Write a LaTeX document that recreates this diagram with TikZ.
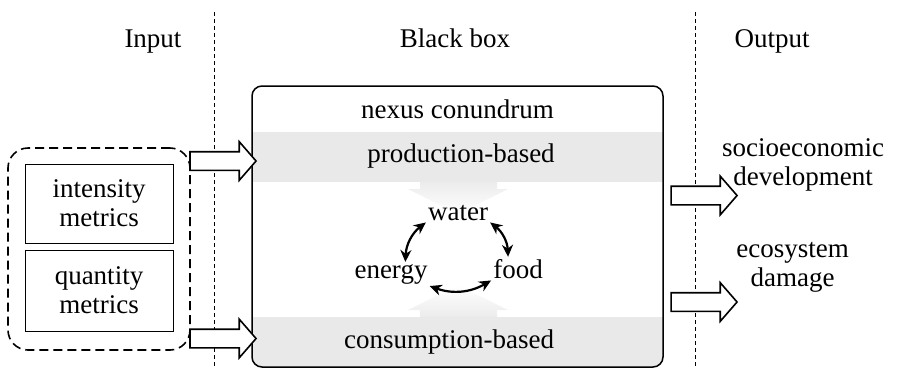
\documentclass[tikz,border=0pt]{standalone}
\usepackage{fontspec}
\setmainfont{Liberation Serif}
\usetikzlibrary{arrows.meta,shapes.arrows,calc}

\tikzset{
  fatarrow/.style={single arrow, draw, line width=1.6pt, fill=white, inner xsep=0pt,
    inner ysep=8.5pt, minimum height=66pt, single arrow head extend=10pt,
    single arrow tip angle=98, anchor=center},
  metricbox/.style={draw, line width=0.8pt, minimum width=148pt, align=center},
  band/.style={fill=gray!17},
  link/.style={{Stealth[length=12pt,width=11pt]}-{Stealth[length=12pt,width=11pt]}, line width=2.2pt},
  sep/.style={dashed, line width=0.9pt, dash pattern=on 4pt off 3pt}
}

\begin{document}
\begin{tikzpicture}[x=1pt,y=-1pt,font=\fontsize{27}{29}\selectfont]
\useasboundingbox (0,0) rectangle (915,368);

% columns
\draw[sep] (214,12) -- (214,368);
\draw[sep] (695,12) -- (695,368);
\node[anchor=base] (input) at (153,47) {Input};
\node[anchor=base] (blackbox) at (455,47) {Black box};
\node[anchor=base] (output) at (772,47) {Output};

% black box
\begin{scope}
  \clip[rounded corners=10pt] (252,86) rectangle (663,367);
  \fill[band] (252,132) rectangle (663,182);
  \fill[band] (252,317) rectangle (663,367);
  \shade[top color=gray!15, bottom color=white]
    (420,182) -- (497,182) -- (497,189) -- (508,189) -- (458,214) -- (408,189) -- (420,189) -- cycle;
  \shade[bottom color=gray!15, top color=white]
    (420,317) -- (497,317) -- (497,310) -- (508,310) -- (458,285) -- (408,310) -- (420,310) -- cycle;
\end{scope}
\node[draw, line width=1.5pt, rounded corners=10pt, minimum width=411pt, minimum height=281pt,
  inner sep=0pt] (box) at (457.5,226.5) {};

\node[anchor=base] (conundrum) at (457.5,118) {nexus conundrum};
\node[anchor=base] (production) at (461,162) {production-based};
\node[anchor=base] (consumption) at (449,348) {consumption-based};

% nexus
\begin{scope}[inner sep=2pt]
  \node[anchor=base] (water) at (458,220) {water};
  \node[anchor=base] (energy) at (391,278) {energy};
  \node[anchor=base] (food) at (518,278) {food};
\end{scope}
\draw[link] (energy.40) to[bend left=25] (water.south west);
\draw[link] (water.south east) to[bend left=25] (food.130);
\draw[link] (energy.south east) to[bend right=25] (food.south west);

% input
\node[draw, dashed, line width=1.6pt, dash pattern=on 9pt off 5pt, rounded corners=20pt,
  minimum width=182pt, minimum height=202pt] (metrics) at (99,249) {};
\node[metricbox, minimum height=79pt] (intensity) at (99,203.5) {intensity\\metrics};
\node[metricbox, minimum height=81pt] (quantity) at (99,290.5) {quantity\\metrics};

\node[fatarrow] (in1) at (219,161) {};
\node[fatarrow] (in2) at (219,338.5) {};

% output
\node[fatarrow] (out1) at (700,195.5) {};
\node[fatarrow] (out2) at (700,302) {};
\node[anchor=base, align=center] (socio) at (803,185) {socioeconomic\\development};
\node[anchor=base, align=center] (damage) at (792.5,286) {ecosystem\\damage};
\end{tikzpicture}
\end{document}
